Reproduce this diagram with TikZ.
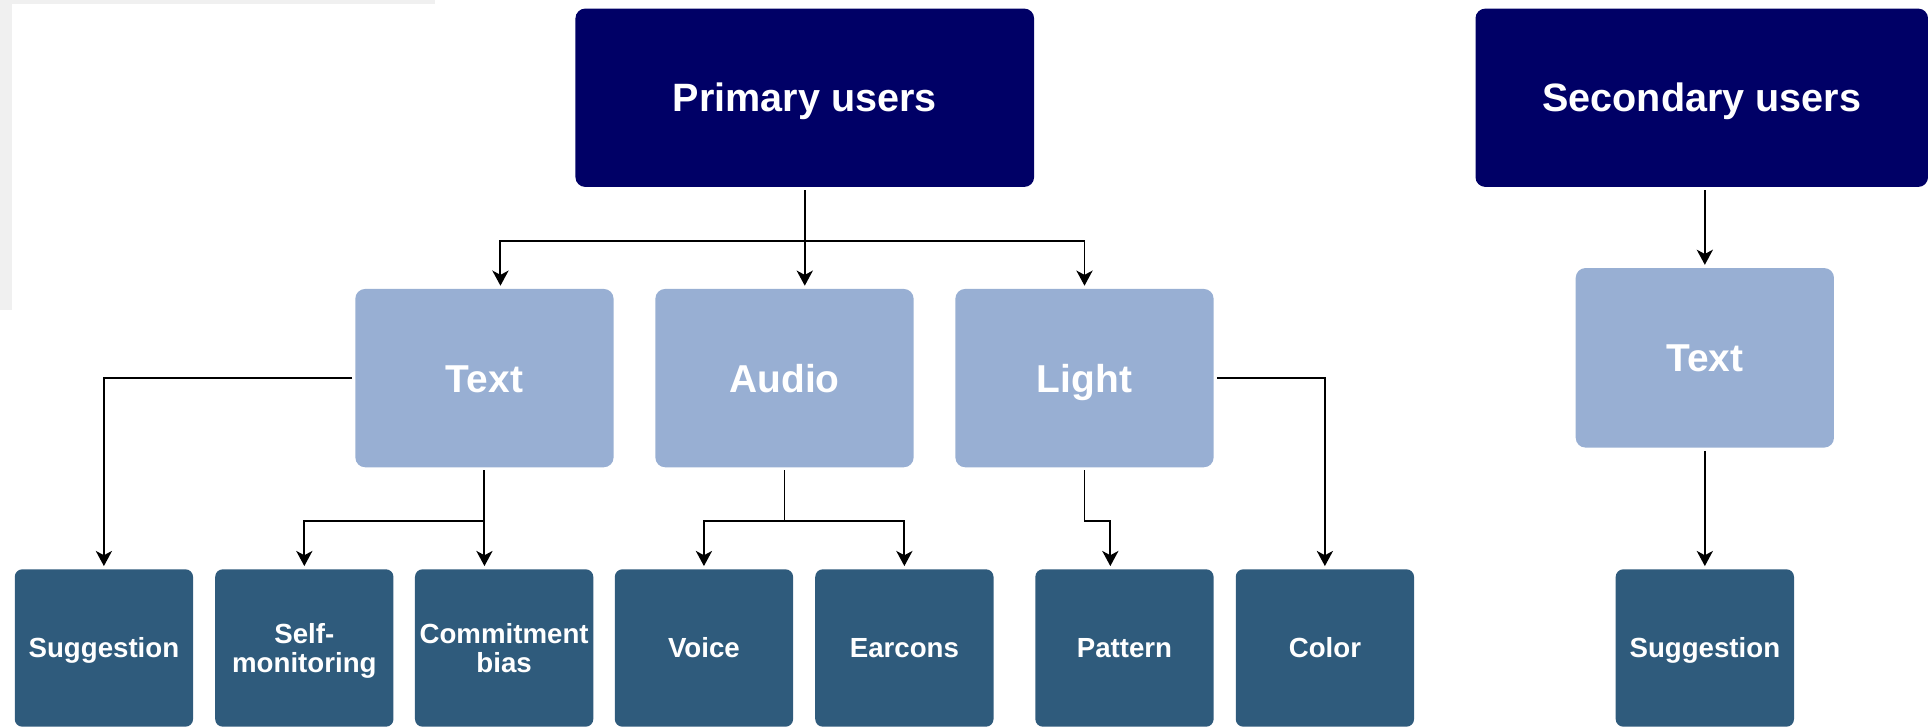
\documentclass[tikz,border=0pt]{standalone}
\usepackage{fontspec}
\setmainfont{Liberation Sans}
\usetikzlibrary{arrows.meta}
\definecolor{usrnavy}{RGB}{0,0,102}
\definecolor{chanblue}{RGB}{152,175,211}
\definecolor{leafblue}{RGB}{47,91,124}
\definecolor{framegray}{RGB}{240,240,240}

\begin{document}
\begin{tikzpicture}[x=0.2mm,y=-0.2mm,
    usrbox/.style={fill=usrnavy,text=white,rounded corners=4.5pt,inner sep=0pt,outer sep=1.5pt,
      minimum width=74.6mm,minimum height=29mm,text height=13.1pt,text depth=0pt,
      font=\fontsize{18.3}{20}\selectfont\bfseries},
    chanbox/.style={fill=chanblue,text=white,rounded corners=4.5pt,inner sep=0pt,outer sep=1.5pt,
      minimum width=42mm,minimum height=29mm,text height=12.9pt,text depth=0pt,
      font=\fontsize{18}{20}\selectfont\bfseries},
    leafbox/.style={fill=leafblue,text=white,rounded corners=3.5pt,inner sep=0pt,outer sep=1.5pt,align=center,
      minimum width=29mm,minimum height=25.6mm,text height=9.2pt,text depth=0pt,
      font=\fontsize{12.8}{13.8}\selectfont\bfseries},
    twoline/.style={text height=23pt},
    conn/.style={black,line width=0.9pt,-{Stealth[length=7pt,width=7.5pt,inset=2pt]}}]
  \useasboundingbox (0,0) rectangle (1568,591);
  \fill[framegray] (0,0) rectangle (354,3);
  \fill[framegray] (0,0) rectangle (10,252);

  % users
  \node[usrbox] (prim) at (654.5,79.5) {Primary users};
  \node[usrbox,minimum width=73.6mm] (sec) at (1384,79.5) {Secondary users};

  % channels
  \node[chanbox] (text1) at (394,307.5) {Text};
  \node[chanbox] (audio) at (638,307.5) {Audio};
  \node[chanbox] (light) at (882,307.5) {Light};
  \node[chanbox,minimum height=29.2mm] (text2) at (1386.5,291) {Text};

  % strategies
  \node[leafbox] (sug1) at (84.5,527) {Suggestion};
  \node[leafbox,twoline] (self) at (247.5,527) {Self-\\monitoring};
  \node[leafbox,twoline] (comm) at (410,527) {Commitment\\bias};
  \node[leafbox] (voice) at (572.5,527) {Voice};
  \node[leafbox] (ear) at (735.5,527) {Earcons};
  \node[leafbox] (pat) at (914.5,527) {Pattern};
  \node[leafbox] (col) at (1077.5,527) {Color};
  \node[leafbox] (sug2) at (1386.5,527) {Suggestion};

  % primary tree
  \draw[conn] (prim.south) -- ++(0,41) coordinate (pj) -| ([xshift=2.6mm]text1.north);
  \draw[conn] (pj) -| (light.north);
  \draw[conn] (prim.south) -- (prim.south |- audio.north);

  \draw[conn] (text1.west) -| (sug1.north);
  \draw[conn] (text1.south) -- ++(0,41) coordinate (tj) -| (self.north);
  \draw[conn] (text1.south) -- (text1.south |- comm.north);

  \draw[conn] (audio.south) -- ++(0,41) coordinate (aj) -| (voice.north);
  \draw[conn] (aj) -| (ear.north);

  \draw[conn] (light.south) -- ++(0,41) -| ([xshift=-2.3mm]pat.north);
  \draw[conn] (light.east) -| (col.north);

  % secondary tree
  \draw[conn] (text2.north |- sec.south) -- (text2.north);
  \draw[conn] (text2.south) -- (sug2.north);
\end{tikzpicture}
\end{document}
